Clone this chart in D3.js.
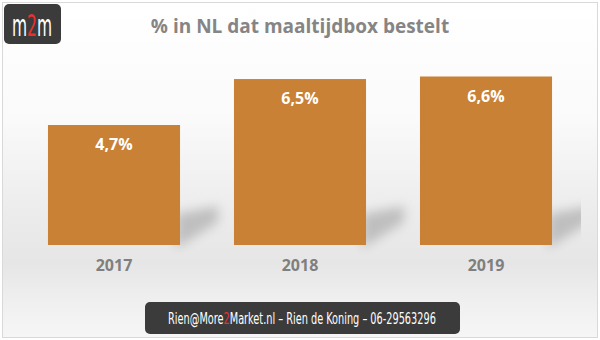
<!DOCTYPE html>
<html><head><meta charset="utf-8">
<script src="https://cdn.jsdelivr.net/npm/d3@7"></script>
<style>html,body{margin:0;padding:0;background:#fff;}svg{display:block;}</style>
</head><body>
<script>
const categories = ["2017", "2018", "2019"];
const values = [4.7, 6.5, 6.6];
const valueLabels = ["4,7%", "6,5%", "6,6%"];
const title = "% in NL dat maaltijdbox bestelt";
const logoParts = [["m", "#ffffff"], ["2", "#e8322f"], ["m", "#ffffff"]];
const footerParts = [["Rien@More", "#ffffff"], ["2", "#e8322f"], ["Market.nl – Rien de Koning – 06-29563296", "#ffffff"]];

const W = 600, H = 340;
const svg = d3.select("body").append("svg").attr("width", W).attr("height", H);
const defs = svg.append("defs");
const bg = defs.append("linearGradient").attr("id", "bg").attr("x1", 0).attr("y1", 0).attr("x2", 0).attr("y2", 1);
[[0, "#ffffff"], [0.35, "#fafafa"], [0.62, "#ececec"], [0.78, "#e6e6e6"], [0.9, "#f0f0f0"], [1, "#f6f6f6"]]
  .forEach(([o, c]) => bg.append("stop").attr("offset", o).attr("stop-color", c));
defs.append("filter").attr("id", "blur").attr("x", "-50%").attr("y", "-50%").attr("width", "200%").attr("height", "200%")
  .append("feGaussianBlur").attr("stdDeviation", 5.5);
defs.append("clipPath").attr("id", "plotclip").append("rect").attr("x", 0).attr("y", 60).attr("width", 581).attr("height", 200);

svg.append("rect").attr("x", 0).attr("y", 0).attr("width", W).attr("height", H).attr("fill", "#fff");
svg.append("rect").attr("x", 2.5).attr("y", 2.5).attr("width", 595).attr("height", 335)
  .attr("fill", "url(#bg)").attr("stroke", "#d9d9d9").attr("stroke-width", 1);

const x = d3.scaleBand().domain(categories).range([21, 579]).paddingInner(0.29).paddingOuter(0.145);
const y = d3.scaleLinear().domain([0, 7]).range([245, 245 - 25.53 * 7]);

// floor shadows
svg.append("g").attr("clip-path", "url(#plotclip)").selectAll("path").data(categories).join("path")
  .attr("d", d => {
    const r = x(d) + x.bandwidth();
    return `M${r - 4},214 L${r + 38},206 L${r + 38},222 L${r - 4},248 Z`;
  })
  .attr("fill", "#8a8a8a").attr("opacity", 0.45).attr("filter", "url(#blur)");

svg.append("g").selectAll("rect").data(values).join("rect")
  .attr("x", (d, i) => x(categories[i]))
  .attr("width", x.bandwidth())
  .attr("y", d => y(d))
  .attr("height", d => y(0) - y(d))
  .attr("fill", "#c88135");

svg.append("g").selectAll("text").data(values).join("text")
  .attr("x", (d, i) => x(categories[i]) + x.bandwidth() / 2)
  .attr("y", d => y(d) + 25)
  .attr("text-anchor", "middle")
  .attr("font-family", "'Open Sans', sans-serif").attr("font-weight", 700).attr("font-size", 16)
  .attr("fill", "#ffffff")
  .text((d, i) => valueLabels[i]);

const xAxis = svg.append("g").attr("transform", "translate(0,245)")
  .call(d3.axisBottom(x).tickSize(0).tickPadding(15));
xAxis.select(".domain").remove();
xAxis.selectAll("text").attr("font-family", "'Open Sans', sans-serif").attr("font-weight", 700)
  .attr("font-size", 16).attr("fill", "#7f7f7f");

svg.append("text").attr("x", 300).attr("y", 33).attr("text-anchor", "middle")
  .attr("font-family", "'Open Sans', sans-serif").attr("font-weight", 700).attr("font-size", 19)
  .attr("fill", "#858585").text(title);

const narrow = "'DejaVu Sans Condensed', 'Liberation Sans Narrow', sans-serif";

// logo
svg.append("rect").attr("x", 4).attr("y", 4).attr("width", 57).attr("height", 40).attr("rx", 5).attr("fill", "#3b3b3b");
const lgG = svg.append("g");
const lt = lgG.append("text").attr("x", 0).attr("y", 0).attr("font-family", narrow)
  .attr("font-size", 30);
logoParts.forEach(([t, c]) => lt.append("tspan").attr("fill", c).text(t));
const lw = lt.node().getComputedTextLength();
lgG.attr("transform", `translate(12,36) scale(${40 / lw},1)`);

// footer
svg.append("rect").attr("x", 145).attr("y", 302).attr("width", 315).attr("height", 32).attr("rx", 5).attr("fill", "#3b3b3b");
const fg = svg.append("g");
const ft = fg.append("text").attr("x", 0).attr("y", 0).attr("font-family", narrow)
  .attr("font-size", 16);
footerParts.forEach(([t, c]) => ft.append("tspan").attr("fill", c).text(t));
const fw = ft.node().getComputedTextLength();
fg.attr("transform", `translate(168,323.5) scale(${268 / fw},1)`);
</script>
</body></html>
